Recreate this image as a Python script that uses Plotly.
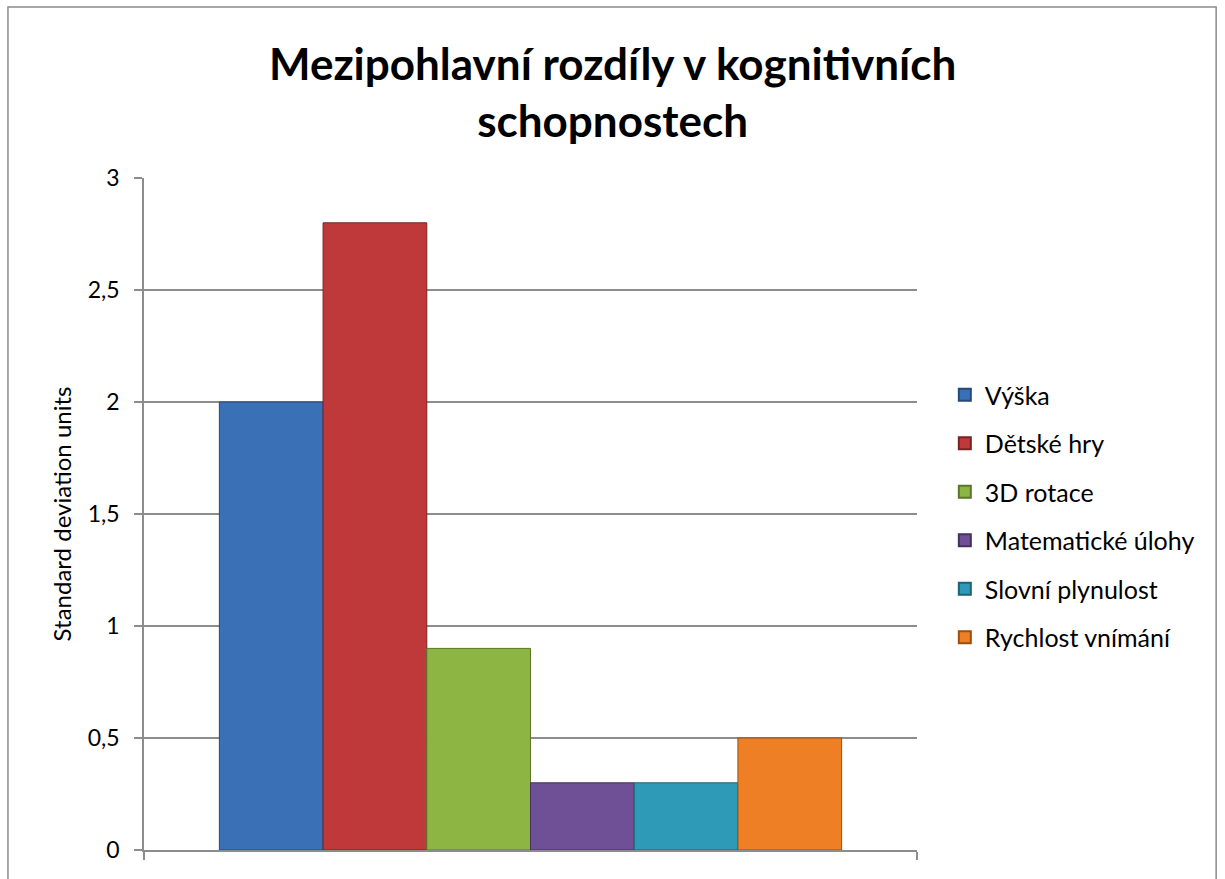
import plotly.graph_objects as go

series_names = ["Výška", "Dětské hry", "3D rotace", "Matematické úlohy", "Slovní plynulost", "Rychlost vnímání"]
series_values = [2.0, 2.8, 0.9, 0.3, 0.3, 0.5]
series_colors = ["#3a70b5", "#c0393a", "#8db543", "#6f4f96", "#2e9ab8", "#ef7f24"]
line_colors = ["#25497a", "#7a2223", "#5a7629", "#46305f", "#1b6376", "#9a4f12"]
y_ticks = [0, 0.5, 1, 1.5, 2, 2.5, 3]

title_text = "Mezipohlavní rozdíly v kognitivních<br>schopnostech"
y_title = "Standard deviation units"

FONT = "Lato"

fig = go.Figure()
for name, val, col, lc in zip(series_names, series_values, series_colors, line_colors):
    fig.add_trace(go.Bar(
        x=[0], y=[val], name=name, legendgroup=name,
        marker=dict(color=col, line=dict(color=lc, width=1)),
    ))

fig.update_layout(
    width=1225, height=879,
    margin=dict(l=144, r=308, t=178, b=29),
    paper_bgcolor="white", plot_bgcolor="white",
    separators=", ",
    barmode="group", bargap=0.195, bargroupgap=0,
    font=dict(family=FONT, color="black", size=23),
    showlegend=True,
    legend=dict(
        x=1.036, xanchor="left", y=0.497, yanchor="middle",
        font=dict(family=FONT, size=25, color="black"),
        tracegroupgap=13, itemsizing="constant",
        bgcolor="rgba(0,0,0,0)",
    ),
    annotations=[dict(
        text="<b>" + title_text + "</b>",
        xref="paper", yref="paper", x=0.606, y=1.128,
        xanchor="center", yanchor="middle", showarrow=False,
        font=dict(family=FONT, size=44, color="black"),
    )],
    shapes=[dict(
        type="rect", xref="paper", yref="paper",
        x0=-0.176, x1=1.387, y0=-0.2, y1=1.2545,
        line=dict(color="#8c8c8c", width=1.5), fillcolor="rgba(0,0,0,0)", layer="below",
    )],
)

fig.update_xaxes(
    range=[-0.5, 0.5], tickvals=[-0.5, 0.5], showticklabels=False,
    ticks="outside", ticklen=8, tickcolor="#8c8c8c", tickwidth=1.5,
    showline=True, linecolor="#8c8c8c", linewidth=1.5,
    showgrid=False, zeroline=False, fixedrange=True,
)
fig.update_yaxes(
    range=[0, 3], tickvals=y_ticks,
    ticks="outside", ticklen=8, tickcolor="#8c8c8c", tickwidth=1.5,
    showline=True, linecolor="#8c8c8c", linewidth=1.5,
    showgrid=True, gridcolor="#8c8c8c", gridwidth=1.5,
    zeroline=False, ticklabelstandoff=10,
    tickfont=dict(family=FONT, size=23, color="black"),
    title=dict(text=y_title, font=dict(family=FONT, size=24, color="black"), standoff=9),
)

fig.write_html("out.html", post_script="document.body.style.margin='0';",
               config={"displayModeBar": False})
